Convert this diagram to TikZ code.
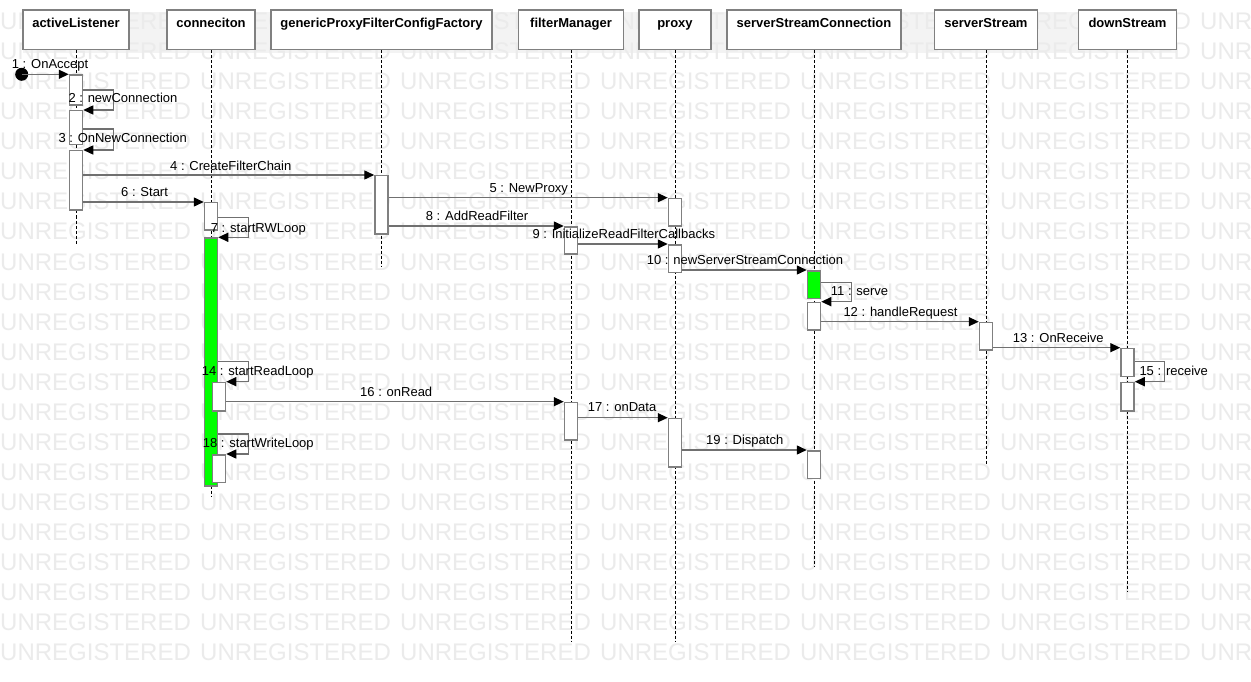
\documentclass[tikz,border=0pt]{standalone}
\usepackage{fontspec}
\setmainfont{Liberation Sans}
\usetikzlibrary{arrows.meta}
\definecolor{wmc}{HTML}{EBEBEB}
\definecolor{bandc}{HTML}{F3F3F3}
\definecolor{barc}{HTML}{808080}
\definecolor{msgc}{HTML}{707070}
\definecolor{actgreen}{HTML}{00FF00}
\tikzset{
  wmk/.style={anchor=base west, inner sep=0pt, text=wmc, font=\fontsize{24}{24}\selectfont},
  hdr/.style={draw=barc, fill=white, line width=1.5pt, anchor=north, inner xsep=0pt, inner ysep=0pt,
              text height=17.6pt, text depth=22.1pt, font=\bfseries\fontsize{13}{15}\selectfont},
  life/.style={draw=black, line width=0.9pt, dash pattern=on 3pt off 2pt},
  actbar/.style={draw=barc, fill=white, line width=1.5pt, minimum width=13pt, inner sep=0pt, anchor=north},
  greenbar/.style={actbar, fill=actgreen},
  msg/.style={draw=msgc, line width=1.4pt, -{Triangle[length=10pt,width=9pt,black]}},
  lbl/.style={anchor=base west, inner sep=0pt, font=\fontsize{13}{15}\selectfont}
}
\begin{document}
\begin{tikzpicture}[x=1pt,y=-1pt]
\useasboundingbox (0,0) rectangle (1251,682);
\clip (0,0) rectangle (1251,682);
\fill[white] (0,0) rectangle (1251,682);
% header band
\fill[bandc] (23,12) rectangle (1176,53);
% watermark
\foreach \r in {0,...,21}{
  \foreach \c in {0,...,6}{
    \node[wmk] (wm-\r-\c) at (200*\c, 30+30*\r) {UNREGISTERED};
  }
}
% headers
\node[hdr, minimum width=106pt] (h1) at (76,9.3) {activeListener};
\node[hdr, minimum width=88pt] (h2) at (211,9.3) {conneciton};
\node[hdr, minimum width=221pt] (h3) at (381.5,9.3) {genericProxyFilterConfigFactory};
\node[hdr, minimum width=105pt] (h4) at (571,9.3) {filterManager};
\node[hdr, minimum width=72pt] (h5) at (675,9.3) {proxy};
\node[hdr, minimum width=174pt] (h6) at (814,9.3) {serverStreamConnection};
\node[hdr, minimum width=103pt] (h7) at (986,9.3) {serverStream};
\node[hdr, minimum width=98pt] (h8) at (1127.5,9.3) {downStream};
% lifeline ends
\coordinate (e1) at (76,244);
\coordinate (e2) at (211,497);
\coordinate (e3) at (381.5,267);
\coordinate (e4) at (571,641);
\coordinate (e5) at (675,641);
\coordinate (e6) at (814,567);
\coordinate (e7) at (986,465);
\coordinate (e8) at (1127.5,592);
\foreach \i in {1,...,8}{ \draw[life] (h\i.south) -- (e\i); }
% activation bars
\node[actbar, minimum height=30pt] (al1) at (76,74.3) {};
\node[actbar, minimum height=34pt] (al2) at (76,110) {};
\node[actbar, minimum height=59pt] (al3) at (76,150) {};
\node[actbar, minimum height=58pt] (gp1) at (381.5,175) {};
\node[actbar, minimum height=27pt] (cn1) at (211,202) {};
\node[greenbar, minimum height=248pt] (cnG) at (211,237.3) {};
\node[actbar, minimum height=28.3pt] (cn2) at (219,381.7) {};
\node[actbar, minimum height=27.7pt] (cn3) at (219,454) {};
\node[actbar, minimum height=27.3pt] (fm1) at (571,226) {};
\node[actbar, minimum height=37.6pt] (fm2) at (571,401.7) {};
\node[actbar, minimum height=27.3pt] (px1) at (675,197.7) {};
\node[actbar, minimum height=27.7pt] (px2) at (675,244) {};
\node[actbar, minimum height=48.3pt] (px3) at (675,417.7) {};
\node[greenbar, minimum height=27.7pt] (sc1) at (814,270) {};
\node[actbar, minimum height=27.6pt] (sc2) at (814,301.7) {};
\node[actbar, minimum height=27.7pt] (sc3) at (814,450) {};
\node[actbar, minimum height=27.6pt] (ss1) at (986,321.7) {};
\node[actbar, minimum height=28pt] (ds1) at (1127.5,347.7) {};
\node[actbar, minimum height=28.3pt] (ds2) at (1127.5,381.7) {};
% start
\node[circle, fill=black, minimum size=13pt, inner sep=0pt] (start) at (21.7,74.3) {};
% messages
\draw[msg] (start.center) -- (al1.north west);
\draw[msg] (al1.east |- 0,90) -- ++(30,0) |- (al2.north east);
\draw[msg] (al2.east |- 0,129) -- ++(30,0) |- (al3.north east);
\draw[msg] (al3.east |- 0,175) -- (gp1.north west);
\draw[msg] (gp1.east |- 0,197.7) -- (px1.north west);
\draw[msg] (al3.east |- 0,202) -- (cn1.north west);
\draw[msg] (cn1.east |- 0,217.7) -- ++(30,0) |- (cnG.north east);
\draw[msg] (gp1.east |- 0,226) -- (fm1.north west);
\draw[msg] (fm1.east |- 0,244) -- (px2.north west);
\draw[msg] (px2.east |- 0,270) -- (sc1.north west);
\draw[msg] (sc1.east |- 0,282.3) -- ++(30,0) |- (sc2.north east);
\draw[msg] (sc2.east |- 0,321.7) -- (ss1.north west);
\draw[msg] (ss1.east |- 0,347.7) -- (ds1.north west);
\draw[msg] (cnG.east |- 0,361.7) -- ++(30,0) |- (cn2.north east);
\draw[msg] (ds1.east |- 0,361.7) -- ++(30,0) |- (ds2.north east);
\draw[msg] (cn2.east |- 0,401.7) -- (fm2.north west);
\draw[msg] (fm2.east |- 0,417.7) -- (px3.north west);
\draw[msg] (cnG.east |- 0,434) -- ++(30,0) |- (cn3.north east);
\draw[msg] (px3.east |- 0,450) -- (sc3.north west);
% labels
\node[lbl] (l1) at (11.7,69) {1 : OnAccept};
\node[lbl] (l2) at (68.3,103) {2 : newConnection};
\node[lbl] (l3) at (58.3,143) {3 : OnNewConnection};
\node[lbl] (l4) at (170,170.4) {4 : CreateFilterChain};
\node[lbl] (l5) at (489.3,192.4) {5 : NewProxy};
\node[lbl] (l6) at (121,196.4) {6 : Start};
\node[lbl] (l7) at (210.7,232) {7 : startRWLoop};
\node[lbl] (l8) at (425.7,220.4) {8 : AddReadFilter};
\node[lbl] (l9) at (532.3,238) {9 : InitializeReadFilterCallbacks};
\node[lbl] (l10) at (646.7,264.7) {10 : newServerStreamConnection};
\node[lbl] (l11) at (830.7,295.4) {11 : serve};
\node[lbl] (l12) at (843.3,316.4) {12 : handleRequest};
\node[lbl] (l13) at (1012.7,342) {13 : OnReceive};
\node[lbl] (l14) at (201.7,375.4) {14 : startReadLoop};
\node[lbl] (l15) at (1139.3,375.4) {15 : receive};
\node[lbl] (l16) at (360,396.7) {16 : onRead};
\node[lbl] (l17) at (587.7,411.4) {17 : onData};
\node[lbl] (l18) at (202.7,447.4) {18 : startWriteLoop};
\node[lbl] (l19) at (706,444.7) {19 : Dispatch};
\end{tikzpicture}
\end{document}
